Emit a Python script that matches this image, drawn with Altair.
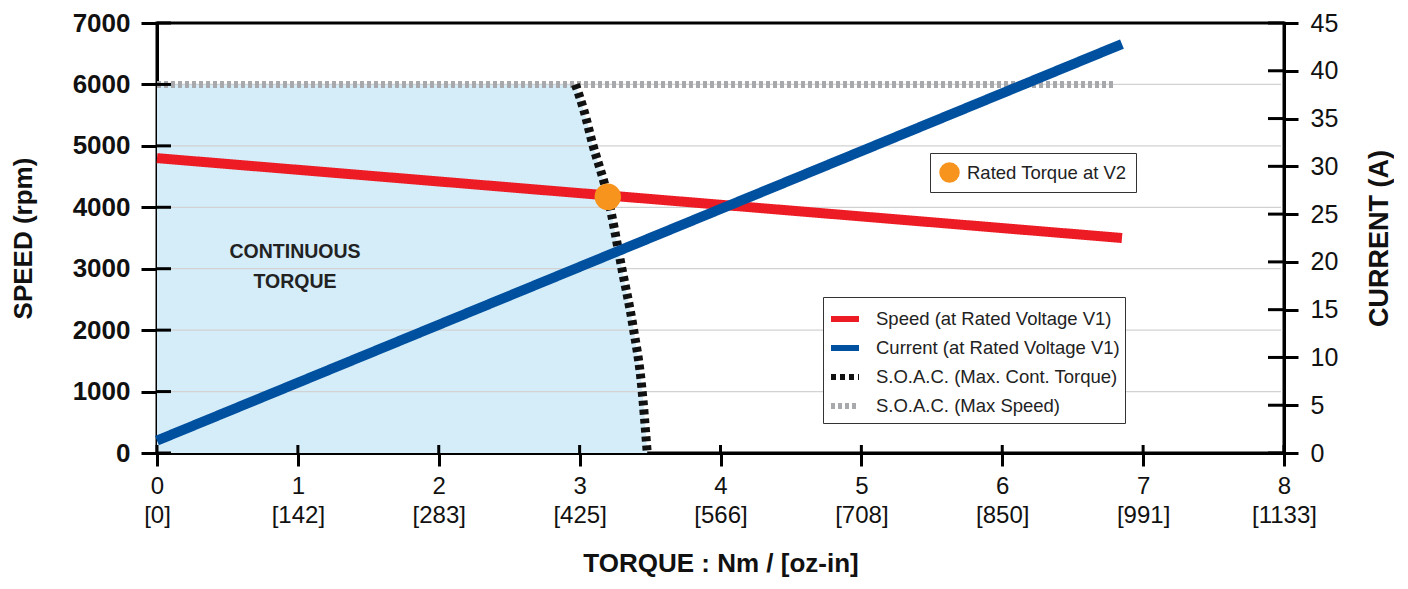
import json
import altair as alt
import pandas as pd

# ---------------- data ----------------
series_names = [
    "Speed (at Rated  Voltage V1)",
    "Current (at Rated Voltage V1)",
    "S.O.A.C. (Max. Cont. Torque)",
    "S.O.A.C. (Max Speed)",
]
series_colors = ["#ed1c24", "#0050a0", "#111111", "#a7a9ac"]
series_dashes = [[1, 0], [1, 0], [5, 4], [4, 3]]

speed_torque = [0, 6.85]
speed_rpm = [4800, 3500]

current_torque = [0, 6.85]
current_amp = [1.3, 42.8]

soac_torque = [2.97, 3.03, 3.09, 3.20, 3.30, 3.38, 3.44, 3.48]
soac_speed = [6000, 5580, 5050, 4170, 3000, 2050, 1100, 0]

maxspeed_torque = [0, 6.8]
maxspeed_rpm = [6000, 6000]

rated_label = ["Rated Torque at V2"]
rated_torque = [3.20]
rated_speed = [4170]

area_label = ["CONTINUOUS\nTORQUE"]
area_label_torque = [0.98]
area_label_speed = [3270]

x_ticks = [0, 1, 2, 3, 4, 5, 6, 7, 8]
oz_labels = ["[0]", "[142]", "[283]", "[425]", "[566]", "[708]", "[850]", "[991]", "[1133]"]
speed_ticks = [0, 1000, 2000, 3000, 4000, 5000, 6000, 7000]
grid_ticks = [1000, 2000, 3000, 4000, 5000, 6000]
current_ticks = [0, 5, 10, 15, 20, 25, 30, 35, 40, 45]

# ---------------- layout ----------------
W, H = 1127, 430
FONT = "Liberation Sans"

x_scale = alt.Scale(domain=[0, 8], nice=False, zero=True)
y_speed = alt.Scale(domain=[0, 7000], nice=False)
y_current = alt.Scale(domain=[0, 45], nice=False)

stroke_scale = alt.Scale(domain=series_names, range=series_colors)
dash_scale = alt.Scale(domain=series_names, range=series_dashes)

line_legend = alt.Legend(
    title=None, orient="none", legendX=666, legendY=274,
    symbolType="stroke", symbolSize=784, symbolStrokeWidth=6,
    labelFont=FONT, labelFontSize=18.5, labelColor="#222", labelOffset=14,
    strokeColor="#333", fillColor="white", padding=5, rowPadding=0,
    labelLimit=400,
)

x_axis = alt.Axis(
    values=x_ticks,
    labelExpr="[datum.label, " + json.dumps(oz_labels) + "[round(datum.value)]]",
    title="TORQUE : Nm / [oz-in]",
    tickSize=13, tickWidth=3, tickColor="black",
    domainWidth=3, domainColor="black",
    labelFont=FONT, labelFontSize=24, labelColor="#111", labelLineHeight=29,
    labelPadding=8, labelFlush=False,
    titleFont=FONT, titleFontSize=26, titleFontWeight="bold", titleColor="#111",
    titlePadding=23, grid=False,
)

y_axis_left = alt.Axis(
    values=speed_ticks, orient="left", format="d",
    tickSize=16, tickWidth=3, tickColor="black",
    domainWidth=3, domainColor="black",
    labelFont=FONT, labelFontSize=26, labelFontWeight="bold", labelColor="#111",
    labelPadding=11,
    title="SPEED (rpm)", titleFont=FONT, titleFontSize=26, titleFontWeight="bold",
    titleColor="#111", titleAngle=270, titleX=-134, titleY=H / 2,
    titleAlign="center", titleBaseline="middle",
    grid=False,
)

y_axis_right = alt.Axis(
    values=current_ticks, orient="right",
    tickSize=14, tickWidth=3, tickColor="black",
    domainWidth=3, domainColor="black",
    labelFont=FONT, labelFontSize=25, labelColor="#111", labelPadding=12,
    title="CURRENT (A)", titleFont=FONT, titleFontSize=27, titleFontWeight="bold",
    titleColor="#111", titleAngle=270, titleX=95, titleY=H / 2,
    titleAlign="center", titleBaseline="middle",
    grid=False,
)

# ---------------- frames ----------------
df_speed = pd.DataFrame({"torque": speed_torque, "value": speed_rpm, "series": series_names[0]})
df_current = pd.DataFrame({"torque": current_torque, "value": current_amp, "series": series_names[1]})
df_soac = pd.DataFrame({"torque": soac_torque, "value": soac_speed, "series": series_names[2]})
df_max = pd.DataFrame({"torque": maxspeed_torque, "value": maxspeed_rpm, "series": series_names[3]})
df_rated = pd.DataFrame({"torque": rated_torque, "value": rated_speed, "label": rated_label})
df_text = pd.DataFrame({"torque": area_label_torque, "value": area_label_speed, "label": area_label})
df_grid = pd.DataFrame({"value": grid_ticks})
df_sticks = pd.DataFrame({"value": speed_ticks})
df_xticks = pd.DataFrame({"torque": x_ticks})
df_cticks = pd.DataFrame({"value": current_ticks})

X = alt.X("torque:Q", scale=x_scale, axis=x_axis)
Y = alt.Y("value:Q", scale=y_speed, axis=y_axis_left)


def line_enc():
    return dict(
        x=X, y=Y,
        stroke=alt.Stroke("series:N", scale=stroke_scale, legend=line_legend),
        strokeDash=alt.StrokeDash("series:N", scale=dash_scale, legend=line_legend),
    )


area = alt.Chart(df_soac).mark_area(
    orient="horizontal", color="#d4edf9", opacity=1, interpolate="monotone"
).encode(y=Y, x=X, x2=alt.value(0))

grid = alt.Chart(df_grid).mark_rule(color="#d2d2d2", strokeWidth=1.3).encode(
    y=Y, x=alt.value(0), x2=alt.value(W - 3)
)

max_line = alt.Chart(df_max).mark_line(strokeWidth=7, strokeCap="butt").encode(**line_enc())
soac_line = alt.Chart(df_soac).mark_line(
    strokeWidth=9, strokeCap="butt", interpolate="monotone"
).encode(**line_enc())
speed_line = alt.Chart(df_speed).mark_line(strokeWidth=10, strokeCap="butt").encode(**line_enc())

text = alt.Chart(df_text).mark_text(
    font=FONT, fontSize=19.5, fontWeight="bold", color="#222", lineBreak="\n",
    lineHeight=30, baseline="middle", align="center",
).encode(x=X, y=Y, text="label:N")

rated = alt.Chart(df_rated).mark_point(filled=True, size=700, opacity=1, strokeWidth=0).encode(
    x=X, y=Y,
    fill=alt.Fill(
        "label:N",
        scale=alt.Scale(range=["#f7941d"]),
        legend=alt.Legend(
            title=None, orient="none", legendX=773, legendY=130,
            symbolType="circle", symbolSize=420, symbolStrokeWidth=0,
            labelFont=FONT, labelFontSize=18.5, labelColor="#222", labelOffset=7,
            strokeColor="#333", fillColor="white", padding=9,
        ),
    ),
)

left_ticks = alt.Chart(df_sticks).mark_rule(color="black", strokeWidth=3).encode(
    y=Y, x=alt.value(0), x2=alt.value(14)
)
bottom_ticks = alt.Chart(df_xticks).mark_rule(color="black", strokeWidth=3).encode(
    x=X, y=alt.value(H - 8), y2=alt.value(H)
)

speed_group = alt.layer(area, grid, max_line, soac_line, speed_line, text, left_ticks, bottom_ticks, rated)

YC = alt.Y("value:Q", scale=y_current, axis=y_axis_right)
current_line = alt.Chart(df_current).mark_line(strokeWidth=10, strokeCap="butt").encode(
    x=X, y=YC,
    stroke=alt.Stroke("series:N", scale=stroke_scale, legend=line_legend),
    strokeDash=alt.StrokeDash("series:N", scale=dash_scale, legend=line_legend),
)
right_ticks = alt.Chart(df_cticks).mark_rule(color="black", strokeWidth=3).encode(
    y=YC, x=alt.value(W - 16), x2=alt.value(W)
)
current_group = alt.layer(current_line, right_ticks)

chart = (
    alt.layer(speed_group, current_group)
    .resolve_scale(y="independent")
    .properties(
        width=W, height=H,
        autosize=alt.AutoSizeParams(type="none"),
        padding={"left": 149, "top": 15, "right": 110, "bottom": 128},
        background="white",
    )
    .configure_view(stroke="black", strokeWidth=3)
)

chart.save("out.html", embed_options={"renderer": "svg", "actions": False})
